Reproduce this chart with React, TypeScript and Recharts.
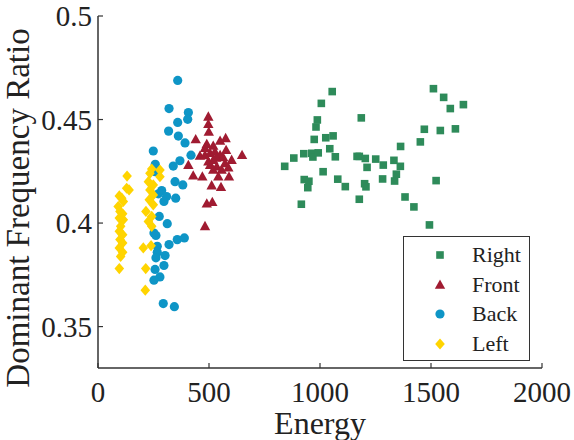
import React from "react";
import {
  ScatterChart,
  Scatter,
  XAxis,
  YAxis,
} from "recharts";

// [energy, dominant frequency ratio]
const rightPoints: [number, number][] = [
  [1055, 0.4635], [1006, 0.4578], [988, 0.4498], [982, 0.4464], [1186, 0.4508],
  [974, 0.4404], [1026, 0.4412], [1059, 0.4421], [1044, 0.4359], [927, 0.4335],
  [963, 0.4337], [968, 0.4319], [992, 0.4339], [1069, 0.432], [882, 0.4314],
  [841, 0.4274], [1014, 0.4248], [929, 0.421], [950, 0.4202], [945, 0.4171],
  [1080, 0.4212], [1114, 0.4176], [916, 0.4091], [1177, 0.4322], [1204, 0.4312],
  [1212, 0.4269], [1251, 0.4309], [1285, 0.428], [1333, 0.4303], [1362, 0.4274],
  [1344, 0.4236], [1336, 0.4203], [1282, 0.4213], [1201, 0.419], [1207, 0.4175],
  [1177, 0.4115], [1363, 0.437], [1383, 0.4126], [1167, 0.4322], [1470, 0.4453],
  [1542, 0.4447], [1452, 0.4392], [1511, 0.4649], [1557, 0.4607], [1587, 0.4553],
  [1646, 0.4572], [1610, 0.4455], [1423, 0.4078], [1493, 0.3991], [1523, 0.4205],
];

const frontPoints: [number, number][] = [
  [497, 0.4513], [497, 0.4477], [499, 0.444], [440, 0.4404], [575, 0.4409],
  [550, 0.4396], [490, 0.4381], [519, 0.4372], [649, 0.4328], [459, 0.4324],
  [482, 0.4327], [505, 0.4337], [527, 0.4344], [550, 0.4328], [564, 0.4317],
  [602, 0.4304], [407, 0.4279], [505, 0.428], [535, 0.4272], [587, 0.4267],
  [519, 0.4256], [557, 0.4256], [429, 0.4229], [470, 0.4224], [542, 0.4224],
  [590, 0.4224], [512, 0.4181], [554, 0.4173], [490, 0.4093], [515, 0.4101],
  [482, 0.3984], [519, 0.4304], [497, 0.4296], [572, 0.4288], [532, 0.4314],
  [482, 0.4362], [577, 0.4352],
];

const backPoints: [number, number][] = [
  [359, 0.4689], [320, 0.4553], [407, 0.4534], [404, 0.4501], [359, 0.4486],
  [318, 0.4444], [362, 0.442], [392, 0.4387], [249, 0.4348], [419, 0.4328],
  [369, 0.4301], [339, 0.4275], [258, 0.4284], [257, 0.4248], [347, 0.42],
  [382, 0.4184], [287, 0.4157], [272, 0.4141], [309, 0.4128], [297, 0.4104],
  [350, 0.412], [276, 0.4032], [312, 0.3997], [252, 0.3952], [261, 0.394],
  [357, 0.392], [389, 0.3928], [320, 0.3896], [267, 0.3888], [267, 0.3859],
  [302, 0.3843], [261, 0.3832], [297, 0.3795], [257, 0.3776], [279, 0.374],
  [252, 0.3724], [294, 0.3611], [344, 0.3596],
];

const leftPoints: [number, number][] = [
  [131, 0.4227], [129, 0.4168], [140, 0.416], [96, 0.4131], [107, 0.412],
  [114, 0.4104], [91, 0.408], [99, 0.4056], [111, 0.4045], [96, 0.4024],
  [114, 0.4016], [102, 0.3984], [96, 0.396], [111, 0.3944], [99, 0.392],
  [111, 0.3904], [96, 0.388], [111, 0.3859], [102, 0.3839], [96, 0.378],
  [242, 0.4261], [279, 0.4256], [234, 0.424], [279, 0.4224], [227, 0.42],
  [249, 0.4184], [234, 0.416], [249, 0.4136], [231, 0.4112], [249, 0.4088],
  [216, 0.4056], [242, 0.4032], [227, 0.4008], [242, 0.3984], [204, 0.388],
  [239, 0.3891], [215, 0.378], [213, 0.3676],
];

const xTicks = [0, 500, 1000, 1500, 2000];
const yTicks = [0.35, 0.4, 0.45, 0.5];

const GREEN = "#2e8b5a";
const RED = "#a01b31";
const BLUE = "#0e95c6";
const YELLOW = "#ffd400";
const AXIS = "#333333";
const FONT = "Liberation Serif";

const toRows = (pts: [number, number][]) => pts.map(([x, y]) => ({ x, y }));

const Square = ({ cx, cy }: any) => (
  <rect x={cx - 3.8} y={cy - 3.8} width={7.6} height={7.6} fill={GREEN} />
);
const Triangle = ({ cx, cy }: any) => (
  <polygon points={`${cx},${cy - 5.5} ${cx + 5.2},${cy + 3.8} ${cx - 5.2},${cy + 3.8}`} fill={RED} />
);
const Circle = ({ cx, cy }: any) => <circle cx={cx} cy={cy} r={4.6} fill={BLUE} />;
const Diamond = ({ cx, cy }: any) => (
  <polygon points={`${cx},${cy - 5.6} ${cx + 4.8},${cy} ${cx},${cy + 5.6} ${cx - 4.8},${cy}`} fill={YELLOW} />
);

const XTick = ({ x, y, payload }: any) => (
  <g>
    <line x1={x} y1={y} x2={x} y2={y - 5} stroke={AXIS} strokeWidth={1.2} />
    <text x={x} y={y + 34} textAnchor="middle" fontSize={29} fill="#222" fontFamily={FONT}>
      {payload.value}
    </text>
  </g>
);

const YTick = ({ x, y, payload }: any) => (
  <g>
    <line x1={x} y1={y} x2={x + 5} y2={y} stroke={AXIS} strokeWidth={1.2} />
    <text x={x - 6} y={y + 10} textAnchor="end" fontSize={29} fill="#222" fontFamily={FONT}>
      {String(payload.value)}
    </text>
  </g>
);

const legendItems = [
  { name: "Right", Shape: Square },
  { name: "Front", Shape: Triangle },
  { name: "Back", Shape: Circle },
  { name: "Left", Shape: Diamond },
];

export default function App() {
  return (
    <div
      style={{
        position: "absolute",
        left: 0,
        top: 0,
        width: 574,
        height: 440,
        background: "#fff",
        fontFamily: FONT,
      }}
    >
      <ScatterChart
        width={574}
        height={440}
        margin={{ top: 16, right: 32, left: 0, bottom: 0 }}
        style={{ fontFamily: FONT }}
      >
        <XAxis
          type="number"
          dataKey="x"
          domain={[0, 2000]}
          ticks={xTicks}
          height={72}
          tickSize={0}
          tickMargin={0}
          tick={<XTick />}
          axisLine={{ stroke: AXIS, strokeWidth: 1.5 }}
          tickLine={false}
          allowDataOverflow
        />
        <XAxis
          xAxisId="top"
          orientation="top"
          type="number"
          domain={[0, 2000]}
          ticks={xTicks}
          mirror
          height={0}
          tick={false}
          tickSize={5}
          axisLine={{ stroke: AXIS, strokeWidth: 1.5 }}
          tickLine={{ stroke: AXIS, strokeWidth: 1.2 }}
        />
        <YAxis
          type="number"
          dataKey="y"
          domain={[0.33, 0.5]}
          ticks={yTicks}
          width={98}
          tickSize={0}
          tickMargin={0}
          tick={<YTick />}
          axisLine={{ stroke: AXIS, strokeWidth: 1.5 }}
          tickLine={false}
          allowDataOverflow
        />
        <YAxis
          yAxisId="right"
          orientation="right"
          type="number"
          domain={[0.33, 0.5]}
          ticks={yTicks}
          mirror
          width={0}
          tick={false}
          tickSize={5}
          axisLine={{ stroke: AXIS, strokeWidth: 1.5 }}
          tickLine={{ stroke: AXIS, strokeWidth: 1.2 }}
        />
        <Scatter name="Right" data={toRows(rightPoints)} shape={<Square />} isAnimationActive={false} />
        <Scatter name="Front" data={toRows(frontPoints)} shape={<Triangle />} isAnimationActive={false} />
        <Scatter name="Back" data={toRows(backPoints)} shape={<Circle />} isAnimationActive={false} />
        <Scatter name="Left" data={toRows(leftPoints)} shape={<Diamond />} isAnimationActive={false} />
        <text
          transform="translate(29,208) rotate(-90)"
          textAnchor="middle"
          fontSize={33}
          fill="#222"
          fontFamily={FONT}
        >
          Dominant Frequency Ratio
        </text>
        <text x={320} y={434} textAnchor="middle" fontSize={32} fill="#222" fontFamily={FONT}>
          Energy
        </text>
      </ScatterChart>
      <div
        style={{
          position: "absolute",
          left: 403,
          top: 236,
          width: 127,
          height: 125,
          border: `1.5px solid ${AXIS}`,
          background: "#fff",
          boxSizing: "border-box",
          fontSize: 22,
          color: "#222",
        }}
      >
        {legendItems.map(({ name, Shape }, i) => (
          <div
            key={name}
            style={{ position: "absolute", left: 0, top: 4 + i * 29.7, height: 28, display: "flex", alignItems: "center" }}
          >
            <svg width={60} height={28} style={{ display: "block" }}>
              <Shape cx={36} cy={14} />
            </svg>
            <span style={{ marginLeft: 8, lineHeight: "28px" }}>{name}</span>
          </div>
        ))}
      </div>
    </div>
  );
}
